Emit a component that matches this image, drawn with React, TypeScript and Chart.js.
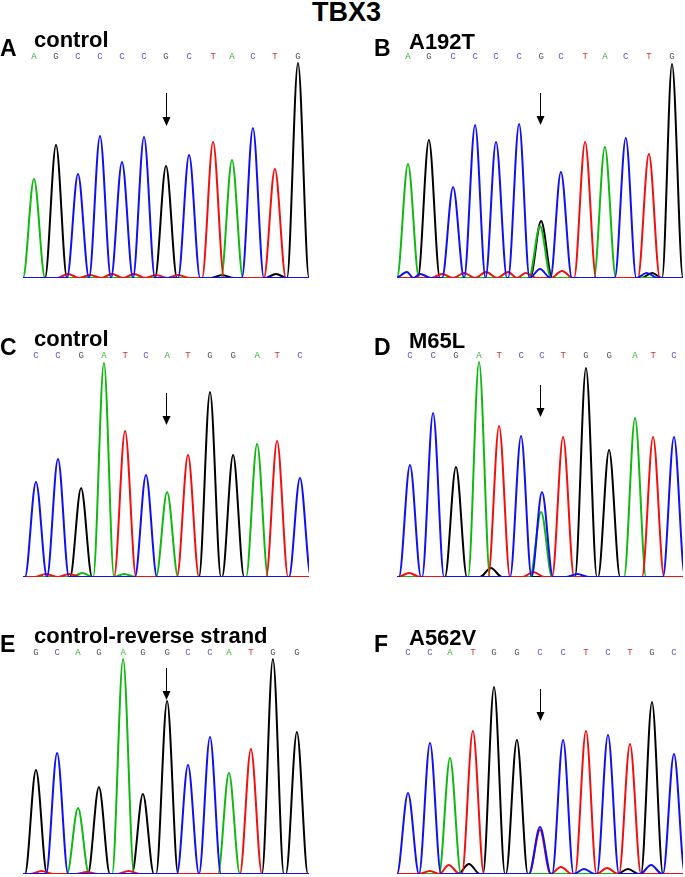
import React, { useEffect, useRef } from 'react';
import { Chart, registerables } from 'chart.js';
Chart.register(...registerables);

// ---------- Data (base positions in base-call units, intensities in arbitrary units) ----------
const panelLetters = ['A', 'B', 'C', 'D', 'E', 'F'];
const panelTitles = ['control', 'A192T', 'control', 'M65L', 'control-reverse strand', 'A562V'];
const arrowBase = [6, 6, 6, 6, 6, 6];
const arrowTopVals = [185, 185, 184, 192, 206, 185];
const arrowTipVals = [152, 153, 152, 160, 174, 153];

// Panel A
const seqA = ['A', 'G', 'C', 'C', 'C', 'C', 'G', 'C', 'T', 'A', 'C', 'T', 'G'];
const posA = [0, 1, 2, 3, 4, 5, 6, 7.05, 8.14, 9, 9.95, 10.95, 12];
const hA = [99, 133, 104, 142, 116, 141, 112, 123, 136, 118, 150, 109, 215];
const minorChA = ['T', 'T', 'T', 'T', 'T', 'T', 'G', 'G'];
const minorPosA = [1.55, 2.55, 3.55, 4.55, 5.55, 6.55, 8.55, 11.0];
const minorHA = [4, 3, 4, 4, 3, 3, 3, 4];

// Panel B
const seqB = ['A', 'G', 'C', 'C', 'C', 'C', 'G', 'C', 'T', 'A', 'C', 'T', 'G'];
const posB = [0, 0.95, 2.05, 3.05, 4.0, 5.05, 6.05, 6.95, 8.05, 8.95, 9.9, 10.95, 12.0];
const hB = [114, 138, 91, 153, 136, 154, 57, 106, 136, 131, 140, 124, 214];
const minorChB = ['A', 'C', 'C', 'C', 'T', 'T', 'T', 'T', 'T', 'T', 'G', 'C'];
const minorPosB = [6.0, 6.0, -0.05, 0.55, 1.55, 2.55, 3.55, 4.55, 5.35, 7.0, 11.1, 10.85];
const minorHB = [52, 9, 6, 4, 4, 5, 6, 6, 5, 7, 5, 5];

// Panel C
const seqC = ['C', 'C', 'G', 'A', 'T', 'C', 'A', 'T', 'G', 'G', 'A', 'T', 'C'];
const posC = [0.09, 1.09, 2.14, 3.18, 4.14, 5.09, 6.05, 7.0, 8.0, 9.05, 10.14, 11.05, 12.09];
const hC = [95, 118, 89, 214, 146, 102, 85, 122, 185, 122, 133, 136, 99];
const minorChC = ['A', 'T', 'T', 'A'];
const minorPosC = [2.2, 0.55, 1.6, 4.1];
const minorHC = [4, 3, 3, 3];

// Panel D
const seqD = ['C', 'C', 'G', 'A', 'T', 'C', 'C', 'T', 'G', 'G', 'A', 'T', 'C'];
const posD = [0.09, 1.14, 2.18, 3.23, 4.14, 5.14, 6.09, 7.05, 8.09, 9.14, 10.32, 11.14, 12.09];
const hD = [112, 164, 110, 215, 151, 141, 85, 140, 209, 127, 159, 140, 140];
const minorChD = ['A', 'G', 'T', 'T', 'C'];
const minorPosD = [6.05, 3.77, 5.7, 0.05, 7.7];
const minorHD = [65, 9, 5, 4, 3];

// Panel E
const seqE = ['G', 'C', 'A', 'G', 'A', 'G', 'G', 'C', 'C', 'A', 'T', 'G', 'G'];
const posE = [0.09, 1.05, 2.0, 2.95, 4.05, 4.95, 6.05, 7.0, 8.0, 8.86, 9.86, 10.86, 11.95];
const hE = [104, 121, 66, 87, 215, 80, 173, 109, 137, 101, 125, 215, 142];
const minorChE = ['T', 'T', 'T'];
const minorPosE = [0.35, 4.3, 2.4];
const minorHE = [3, 3, 2];

// Panel F
const seqF = ['C', 'C', 'A', 'T', 'G', 'G', 'C', 'C', 'T', 'C', 'T', 'G', 'C'];
const posF = [0, 1.0, 1.91, 2.95, 3.91, 4.95, 6.0, 7.05, 8.09, 9.09, 10.09, 11.09, 12.09];
const hF = [81, 131, 116, 143, 187, 134, 47, 134, 143, 139, 130, 172, 120];
const minorChF = ['T', 'T', 'T', 'G', 'T', 'C', 'T', 'G', 'C'];
const minorPosF = [6.0, 1.0, 1.85, 2.77, 6.95, 8.0, 9.05, 10.0, 11.05];
const minorHF = [44, 3, 9, 10, 7, 5, 6, 5, 9];

// ---------- Styles ----------
const TRACE_COLORS: Record<string, string> = { C: '#1010f0', T: '#f01010', A: '#12b812', G: '#000000' };
const LETTER_COLORS: Record<string, string> = { A: '#2fae2f', C: '#5555cc', G: '#555555', T: '#cc3333' };
const CHANNEL_ORDER = ['C', 'T', 'A', 'G'];
const HALF = 0.5;

type PanelDef = {
  seq: string[]; pos: number[]; h: number[];
  mCh: string[]; mPos: number[]; mH: number[];
};

const panels: PanelDef[] = [
  { seq: seqA, pos: posA, h: hA, mCh: minorChA, mPos: minorPosA, mH: minorHA },
  { seq: seqB, pos: posB, h: hB, mCh: minorChB, mPos: minorPosB, mH: minorHB },
  { seq: seqC, pos: posC, h: hC, mCh: minorChC, mPos: minorPosC, mH: minorHC },
  { seq: seqD, pos: posD, h: hD, mCh: minorChD, mPos: minorPosD, mH: minorHD },
  { seq: seqE, pos: posE, h: hE, mCh: minorChE, mPos: minorPosE, mH: minorHE },
  { seq: seqF, pos: posF, h: hF, mCh: minorChF, mPos: minorPosF, mH: minorHF },
];

function tracePoints(peaks: { x: number; y: number }[]) {
  const s = peaks.slice().sort((a, b) => a.x - b.x);
  const pts: { x: number; y: number }[] = [{ x: -1.5, y: 0 }];
  for (let i = 0; i < s.length; i++) {
    const p = s[i];
    const prev = s[i - 1];
    const next = s[i + 1];
    if (!(prev && p.x - prev.x < 2 * HALF + 0.001)) pts.push({ x: p.x - HALF, y: 0 });
    pts.push({ x: p.x, y: p.y });
    if (next && next.x - p.x < 2 * HALF + 0.001) pts.push({ x: (p.x + next.x) / 2, y: 0 });
    else pts.push({ x: p.x + HALF, y: 0 });
  }
  pts.push({ x: 13.5, y: 0 });
  return pts;
}

function Panel({ idx }: { idx: number }) {
  const ref = useRef<HTMLCanvasElement | null>(null);
  const def = panels[idx];
  const right = idx % 2 === 1;
  const row = Math.floor(idx / 2);
  const top = [26, 325, 622][row];
  const width = right ? 343 : 342;
  const height = 256;

  useEffect(() => {
    if (!ref.current) return;
    const datasets = CHANNEL_ORDER.map((ch) => {
      const peaks: { x: number; y: number }[] = [];
      def.seq.forEach((b, i) => { if (b === ch) peaks.push({ x: def.pos[i], y: def.h[i] }); });
      def.mCh.forEach((b, i) => { if (b === ch) peaks.push({ x: def.mPos[i], y: def.mH[i] }); });
      return {
        label: ch,
        data: tracePoints(peaks),
        borderColor: TRACE_COLORS[ch],
        borderWidth: 2,
        pointRadius: 0,
        fill: false,
        cubicInterpolationMode: 'monotone' as const,
        borderJoinStyle: 'round' as const,
      };
    });

    const annot = {
      id: 'annot',
      afterDatasetsDraw(chart: any) {
        const { ctx, chartArea, scales } = chart;
        const xs = scales.x, ys = scales.y;
        ctx.save();
        ctx.font = '9px "Liberation Mono", monospace';
        ctx.textAlign = 'center';
        ctx.textBaseline = 'middle';
        def.seq.forEach((b, i) => {
          ctx.fillStyle = LETTER_COLORS[b];
          ctx.fillText(b, xs.getPixelForValue(def.pos[i]), chartArea.top - 1);
        });
        // arrow
        const ax = Math.round(xs.getPixelForValue(arrowBase[idx])) + 0.5;
        const y1 = ys.getPixelForValue(arrowTopVals[idx]);
        const y2 = ys.getPixelForValue(arrowTipVals[idx]);
        ctx.strokeStyle = '#000';
        ctx.lineWidth = 1;
        ctx.beginPath();
        ctx.moveTo(ax, y1);
        ctx.lineTo(ax, y2 - 7);
        ctx.stroke();
        ctx.fillStyle = '#000';
        ctx.beginPath();
        ctx.moveTo(ax - 4, y2 - 9);
        ctx.lineTo(ax + 4, y2 - 9);
        ctx.lineTo(ax, y2);
        ctx.closePath();
        ctx.fill();
        // labels
        ctx.textAlign = 'left';
        ctx.textBaseline = 'alphabetic';
        ctx.fillStyle = '#000';
        ctx.font = 'bold 23px "Liberation Sans", Arial, sans-serif';
        ctx.fillText(panelLetters[idx], right ? 32 : 0, chartArea.top - 2);
        ctx.font = 'bold 22px "Liberation Sans", Arial, sans-serif';
        ctx.fillText(panelTitles[idx], right ? 67 : 34, chartArea.top - (right ? 9 : 11));
        ctx.restore();
      },
    };

    const chart = new Chart(ref.current, {
      type: 'line',
      data: { datasets },
      options: {
        responsive: false,
        animation: false,
        events: [],
        layout: { padding: { left: right ? 55 : 23, right: right ? 2 : 33, top: 32, bottom: 4 } },
        scales: {
          x: { type: 'linear', min: -0.5, max: 12.5, display: false },
          y: { type: 'linear', min: 0, max: 220, display: false },
        },
        plugins: { legend: { display: false }, tooltip: { enabled: false } },
      },
      plugins: [annot],
    });
    return () => chart.destroy();
  }, [idx]);

  return (
    <canvas
      ref={ref}
      width={width}
      height={height}
      style={{ position: 'absolute', left: right ? 342 : 0, top, width, height }}
    />
  );
}

export default function App() {
  return (
    <div style={{ position: 'absolute', left: 0, top: 0, width: 685, height: 877, background: '#fff', overflow: 'hidden' }}>
      <div
        style={{
          position: 'absolute', left: 312, top: -1, font: 'bold 27px "Liberation Sans", Arial, sans-serif',
          lineHeight: '27px', color: '#000', whiteSpace: 'nowrap',
        }}
      >
        TBX3
      </div>
      {panels.map((_, i) => <Panel key={i} idx={i} />)}
    </div>
  );
}
